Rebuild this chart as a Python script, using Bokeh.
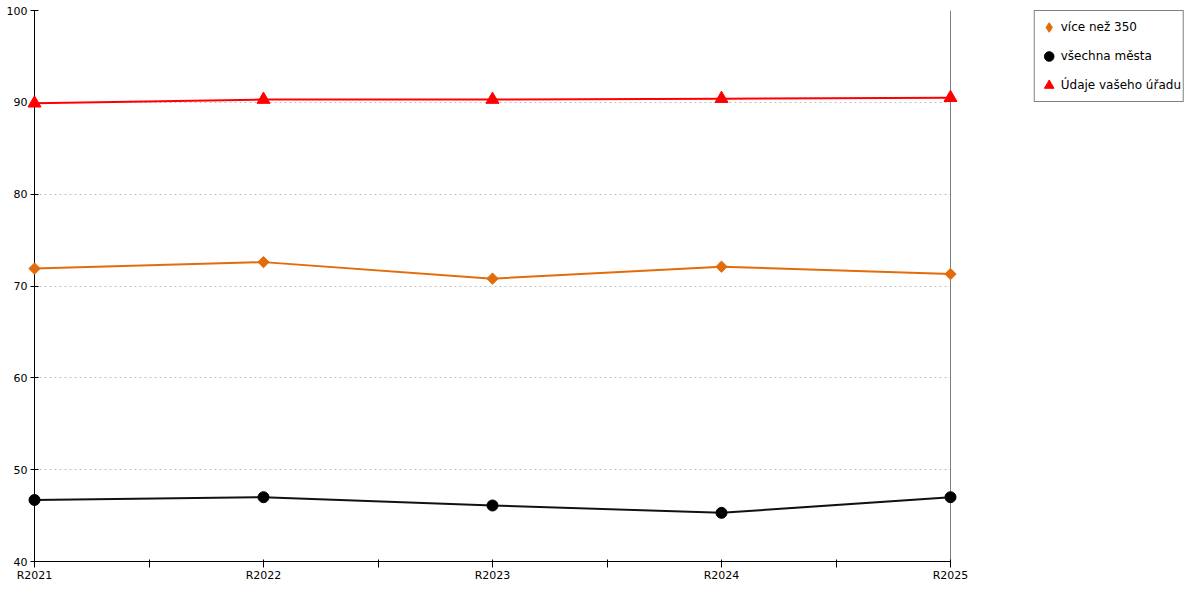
import math
from bokeh.plotting import figure
from bokeh.layouts import row
from bokeh.models import Range1d, FixedTicker, Legend, LegendItem, Span
from bokeh.embed import file_html
from bokeh.resources import INLINE

# Data
labels = ["R2021", "R2022", "R2023", "R2024", "R2025"]
vice_350 = [71.9, 72.6, 70.8, 72.1, 71.3]
vsechna_mesta = [46.7, 47.0, 46.1, 45.3, 47.0]
udaje_uradu = [89.9, 90.3, 90.3, 90.4, 90.5]
y_ticks = [40, 50, 60, 70, 80, 90, 100]
series_names = ["více než 350", "všechna města", "Údaje vašeho úřadu"]

x = list(range(len(labels)))
series = [vice_350, vsechna_mesta, udaje_uradu]
FONT = "DejaVu Sans"
H = 584

# marker styles per series
styles = [
    dict(marker="square", size=8, angle=math.pi / 4, fill_color="#e36c0a", line_color="#e36c0a"),
    dict(marker="circle", size=11, fill_color="black", line_color="black"),
    dict(marker="triangle", size=13, fill_color="#ff0000", line_color="#ff0000"),
]
# the legend ignores marker angle, so it gets a plain diamond
legend_styles = [
    dict(marker="diamond", fill_color="#e36c0a", line_color="#e36c0a"),
    dict(marker="circle", fill_color="black", line_color="black"),
    dict(marker="triangle", fill_color="#ff0000", line_color="#ff0000"),
]
line_colors = ["#e36c0a", "#111111", "#ff0000"]

p = figure(width=970, height=H, output_backend="svg", toolbar_location=None,
           x_range=Range1d(0, len(labels) - 1), y_range=Range1d(40, 100),
           min_border_left=34, min_border_top=10, min_border_right=20,
           min_border_bottom=0)
p.outline_line_color = None

# axes
p.xaxis.ticker = FixedTicker(ticks=x, minor_ticks=[i + 0.5 for i in x[:-1]])
p.xaxis.major_label_overrides = {i: lab for i, lab in zip(x, labels)}
p.yaxis.ticker = FixedTicker(ticks=y_ticks)
for ax in (p.xaxis[0], p.yaxis[0]):
    ax.axis_label = None
    ax.axis_line_color = "black"
    ax.major_tick_line_color = "black"
    ax.minor_tick_line_color = "black"
    ax.major_label_text_font = FONT
    ax.major_label_text_font_size = "11px"
    ax.major_label_text_color = "black"
p.xaxis.major_tick_in = 2
p.xaxis.major_tick_out = 6
p.xaxis.minor_tick_in = 2
p.xaxis.minor_tick_out = 6
p.xaxis.major_label_standoff = 1
p.yaxis.major_tick_in = 4
p.yaxis.major_tick_out = 4
p.yaxis.minor_tick_line_color = None
p.yaxis.major_label_standoff = 3

p.xgrid.grid_line_color = None
p.ygrid.grid_line_color = "#c0c0c0"
p.ygrid.grid_line_dash = "2 3"

# right border line
p.add_layout(Span(location=len(labels) - 1, dimension="height",
                  line_color="black", line_width=1))

# series (markers on the overlay level so the edge points are not cut)
for ys, lc, st in zip(series, line_colors, styles):
    p.line(x, ys, line_color=lc, line_width=2)
    p.scatter(x, ys, level="overlay", **st)

# legend lives in its own small figure to the right of the chart;
# its renderers hold the same data but sit outside that figure's ranges
pl = figure(width=1184 - 970, height=H, output_backend="svg", toolbar_location=None,
            x_range=Range1d(0, 1), y_range=Range1d(0, 1),
            x_axis_location=None, y_axis_location=None, min_border=0)
pl.outline_line_color = None
pl.grid.grid_line_color = None
items = []
for name, ys, st in zip(series_names, series, legend_styles):
    r = pl.scatter(x=x, y=ys, **st)
    items.append(LegendItem(label=name, renderers=[r]))

legend = Legend(items=items, location="top_right")
legend.label_text_font = FONT
legend.label_text_font_size = "12px"
legend.label_text_color = "black"
legend.border_line_color = "black"
legend.border_line_width = 1
legend.background_fill_color = "white"
legend.background_fill_alpha = 1
legend.padding = 2
legend.margin = 0
legend.spacing = 1
legend.glyph_width = 24
legend.glyph_height = 28
legend.label_height = 28
legend.label_standoff = 0
pl.add_layout(legend)

layout = row(p, pl)
open("out.html", "w").write(file_html(layout, INLINE))
